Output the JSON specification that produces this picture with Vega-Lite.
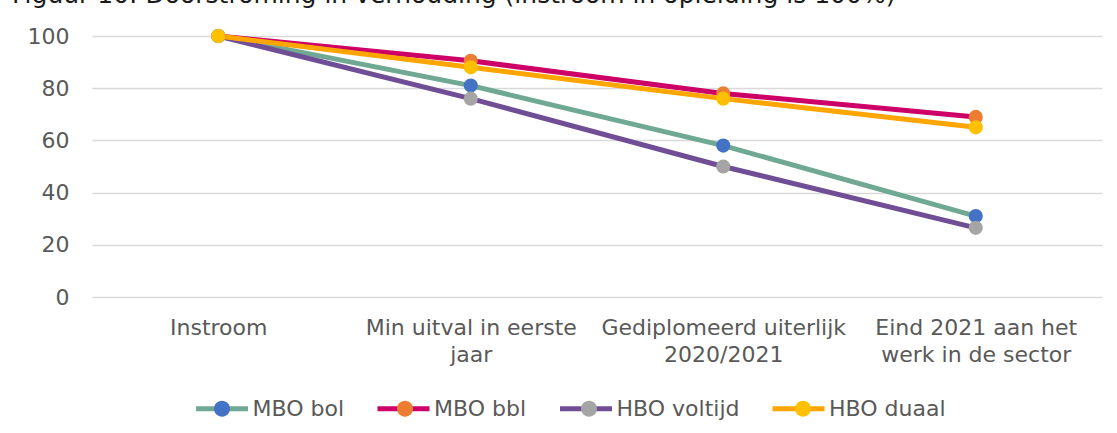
{
  "$schema": "https://vega.github.io/schema/vega-lite/v6.json",
  "width": 1010,
  "height": 261,
  "autosize": {"type": "none"},
  "padding": {"left": 92, "top": 36, "right": 15, "bottom": 136},
  "background": "white",
  "title": {
    "text": "Figuur 10: Doorstroming in verhouding (instroom in opleiding is 100%)",
    "anchor": "start",
    "frame": "group",
    "font": "DejaVu Sans",
    "fontSize": 25,
    "fontWeight": "normal",
    "color": "#1a1a1a",
    "baseline": "alphabetic",
    "dx": -80,
    "offset": -3
  },
  "data": {
    "values": [
      {"series": "MBO bol", "stage": "Instroom", "value": 100},
      {"series": "MBO bol", "stage": "Min uitval in eerste jaar", "value": 81},
      {"series": "MBO bol", "stage": "Gediplomeerd uiterlijk 2020/2021", "value": 58},
      {"series": "MBO bol", "stage": "Eind 2021 aan het werk in de sector", "value": 31},
      {"series": "MBO bbl", "stage": "Instroom", "value": 100},
      {"series": "MBO bbl", "stage": "Min uitval in eerste jaar", "value": 90.5},
      {"series": "MBO bbl", "stage": "Gediplomeerd uiterlijk 2020/2021", "value": 78},
      {"series": "MBO bbl", "stage": "Eind 2021 aan het werk in de sector", "value": 69},
      {"series": "HBO voltijd", "stage": "Instroom", "value": 100},
      {"series": "HBO voltijd", "stage": "Min uitval in eerste jaar", "value": 76},
      {"series": "HBO voltijd", "stage": "Gediplomeerd uiterlijk 2020/2021", "value": 50},
      {"series": "HBO voltijd", "stage": "Eind 2021 aan het werk in de sector", "value": 26.5},
      {"series": "HBO duaal", "stage": "Instroom", "value": 100},
      {"series": "HBO duaal", "stage": "Min uitval in eerste jaar", "value": 88},
      {"series": "HBO duaal", "stage": "Gediplomeerd uiterlijk 2020/2021", "value": 76},
      {"series": "HBO duaal", "stage": "Eind 2021 aan het werk in de sector", "value": 65}
    ]
  },
  "encoding": {
    "x": {
      "field": "stage",
      "type": "nominal",
      "sort": null,
      "scale": {"type": "point", "padding": 0.5},
      "axis": {
        "title": null,
        "labelAngle": 0,
        "ticks": false,
        "domain": false,
        "grid": false,
        "labelPadding": 20,
        "labelBaseline": "top",
        "labelLineHeight": 27,
        "labelLimit": 400,
        "labelFontSize": 22,
        "labelColor": "#595959",
        "labelExpr": "datum.value == 'Min uitval in eerste jaar' ? ['Min uitval in eerste', 'jaar'] : datum.value == 'Gediplomeerd uiterlijk 2020/2021' ? ['Gediplomeerd uiterlijk', '2020/2021'] : datum.value == 'Eind 2021 aan het werk in de sector' ? ['Eind 2021 aan het', 'werk in de sector'] : datum.value"
      }
    },
    "y": {
      "field": "value",
      "type": "quantitative",
      "scale": {"domain": [0, 100], "nice": false, "zero": true},
      "axis": {
        "title": null,
        "values": [0, 20, 40, 60, 80, 100],
        "ticks": false,
        "domain": false,
        "grid": true,
        "gridColor": "#d9d9d9",
        "gridWidth": 1.5,
        "labelPadding": 23,
        "labelFontSize": 22,
        "labelColor": "#595959"
      }
    }
  },
  "layer": [
    {
      "mark": {"type": "line", "strokeWidth": 5, "strokeCap": "round", "strokeJoin": "round"},
      "encoding": {
        "stroke": {
          "field": "series",
          "type": "nominal",
          "scale": {
            "domain": ["MBO bol", "MBO bbl", "HBO voltijd", "HBO duaal"],
            "range": ["#70a993", "#cc0066", "#6f4e96", "#ffa500"]
          },
          "legend": {
            "title": null,
            "orient": "none",
            "legendX": 101.5,
            "legendY": 344,
            "direction": "horizontal",
            "padding": 0,
            "symbolType": "M-1,0H1",
            "symbolSize": 2704,
            "symbolStrokeWidth": 5,
            "symbolFillColor": "transparent",
            "labelOffset": 2,
            "columnPadding": 22.5,
            "labelFontSize": 22,
            "labelColor": "#595959",
            "labelLimit": 300
          }
        }
      }
    },
    {
      "mark": {"type": "point", "filled": true, "size": 200, "opacity": 1, "strokeWidth": 0},
      "encoding": {
        "fill": {
          "field": "series",
          "type": "nominal",
          "sort": null,
          "scale": {
            "range": ["#4472c4", "#ed7d31", "#a5a5a5", "#ffc000"]
          },
          "legend": {
            "title": null,
            "orient": "none",
            "legendX": 101.5,
            "legendY": 344,
            "direction": "horizontal",
            "padding": 0,
            "symbolType": "M-0.28,0A0.28,0.28,0,1,0,0.28,0A0.28,0.28,0,1,0,-0.28,0Z",
            "symbolSize": 3249,
            "symbolStrokeWidth": 0,
            "symbolOpacity": 1,
            "labelOffset": 2,
            "columnPadding": 32,
            "labelFontSize": 22,
            "labelColor": "transparent",
            "labelLimit": 300
          }
        }
      }
    }
  ],
  "config": {
    "font": "DejaVu Sans",
    "view": {"stroke": null}
  }
}
